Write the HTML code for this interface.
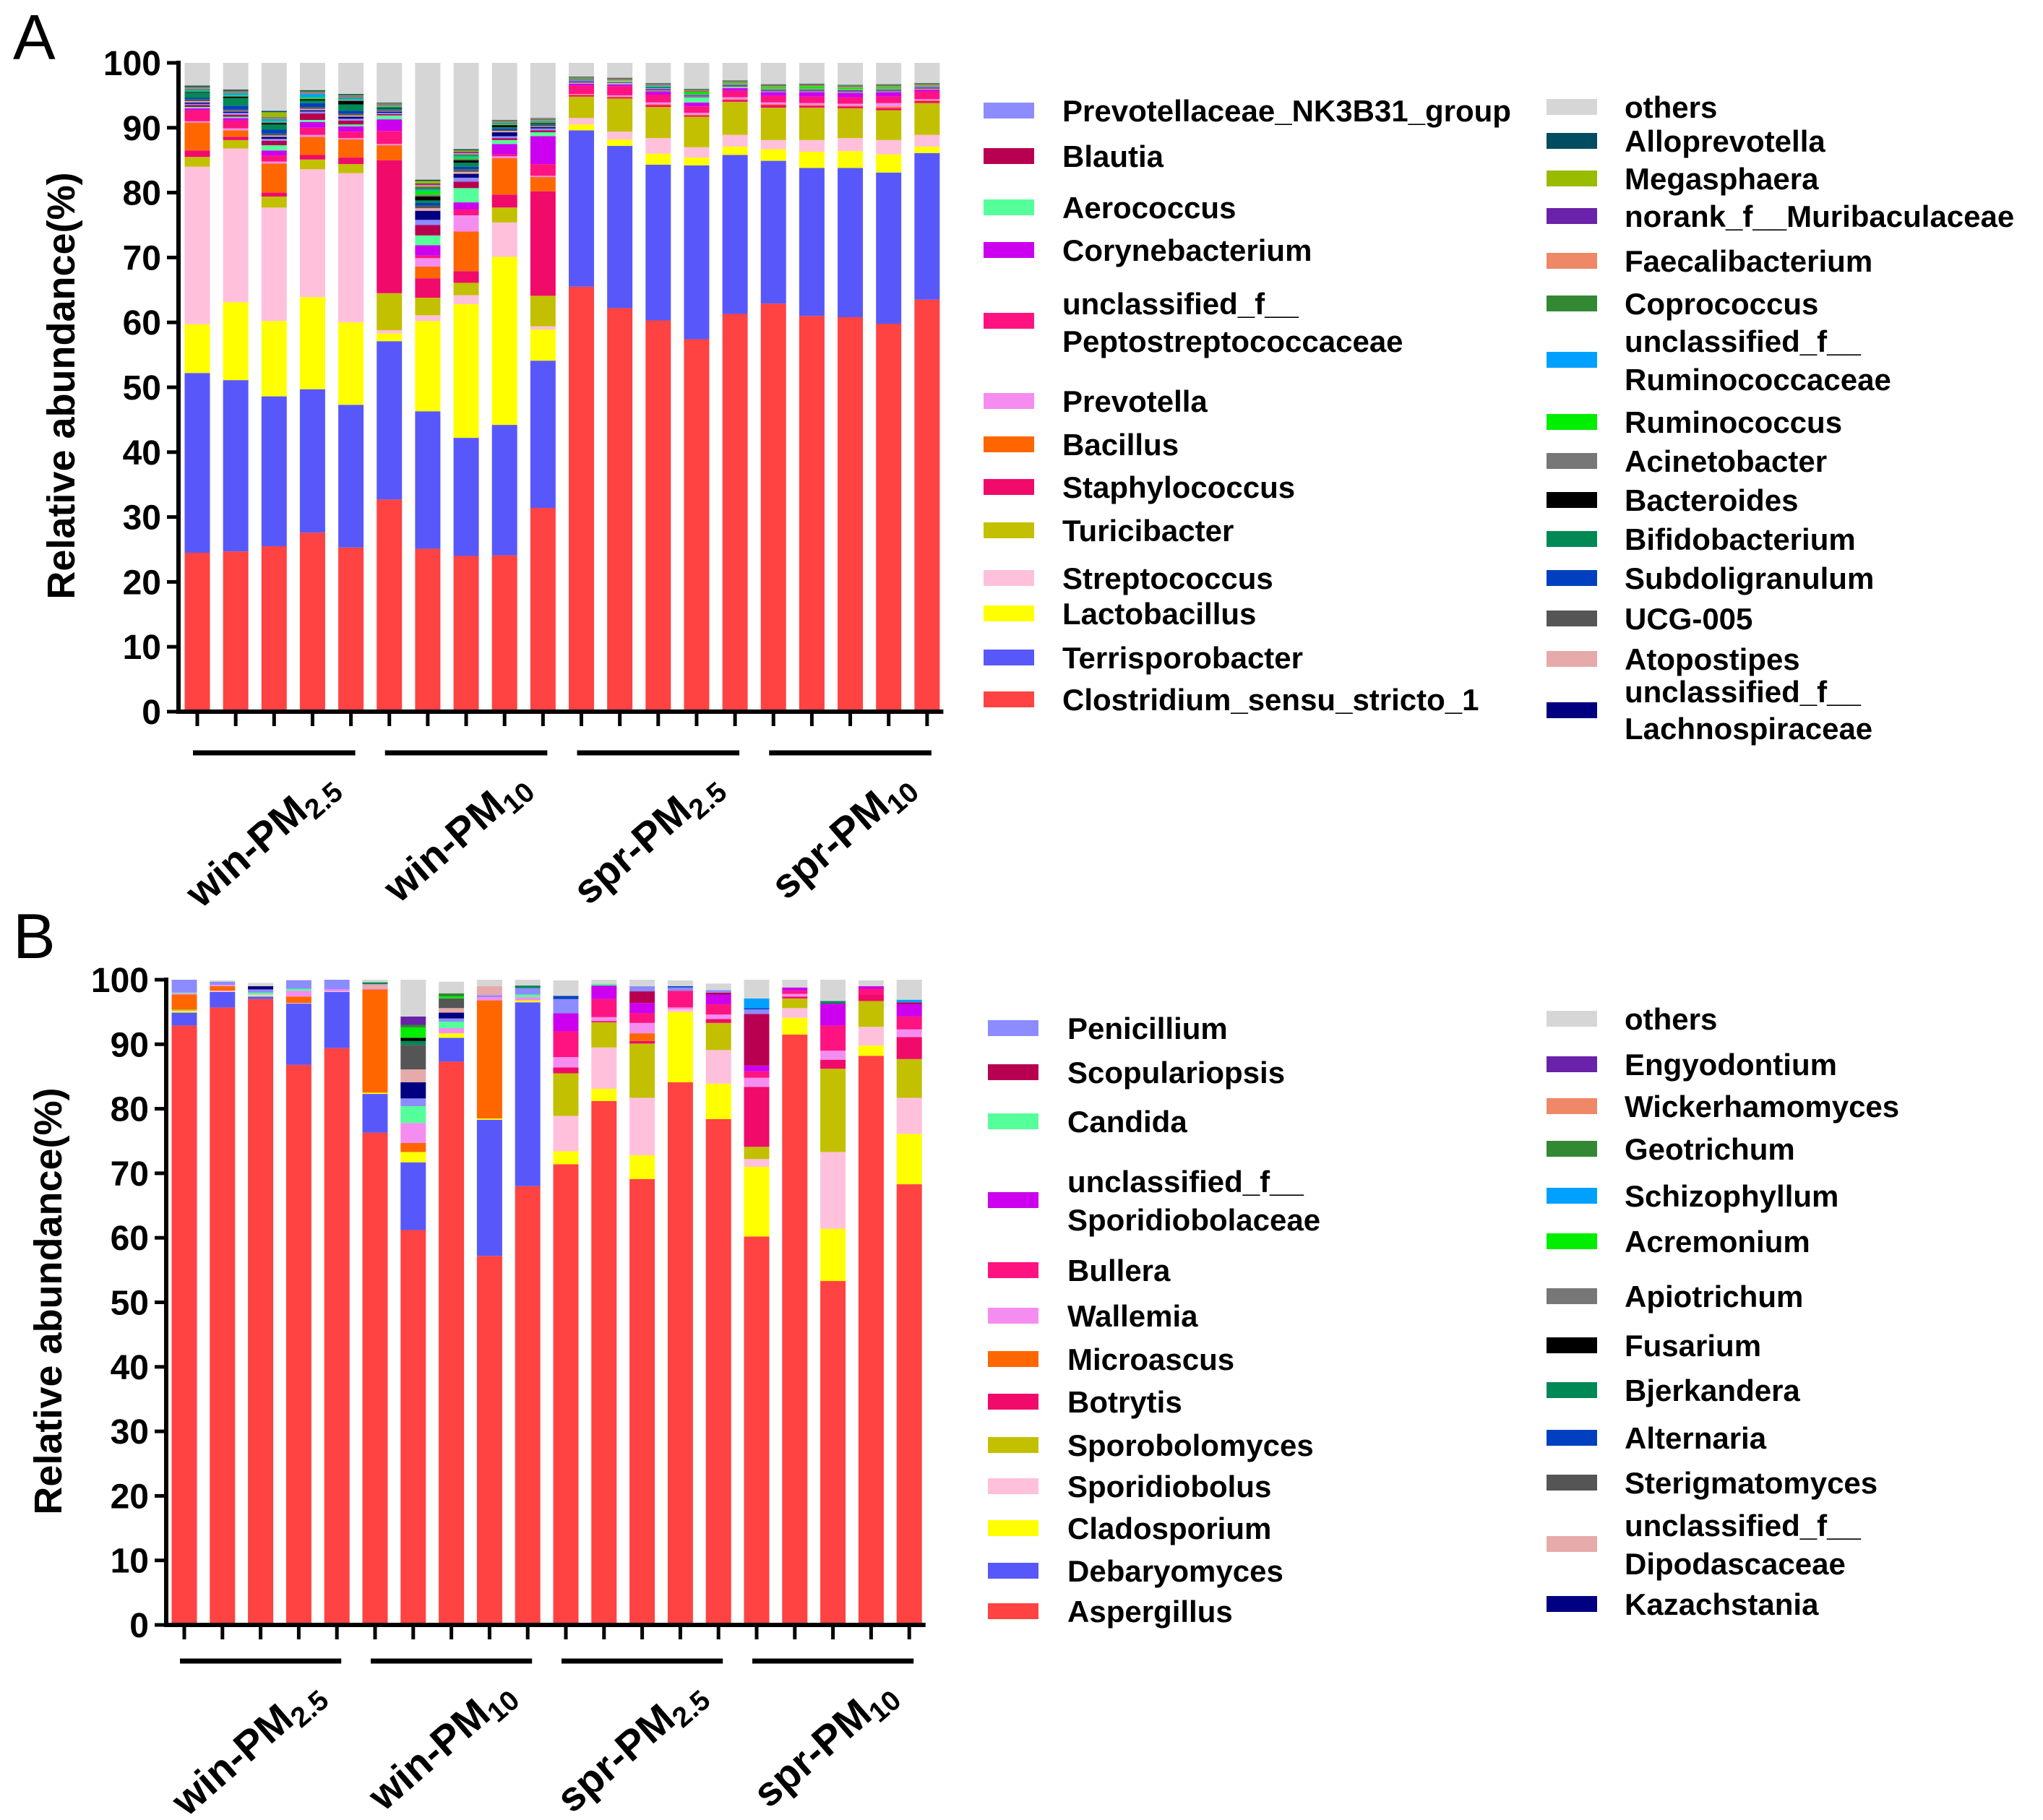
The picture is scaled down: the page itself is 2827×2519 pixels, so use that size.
<!DOCTYPE html>
<html><head><meta charset="utf-8"><style>
html,body{margin:0;padding:0;background:#fff;}
svg{display:block;font-family:"Liberation Sans",Arial,sans-serif;}
</style></head><body>
<svg id="fig" width="2827" height="2519" viewBox="0 0 2827 2519" xmlns="http://www.w3.org/2000/svg">
<text x="18" y="82" font-size="88">A</text>
<text x="18" y="1326" font-size="88">B</text>
<g id="chartA"></g>
<g id="chartB"></g>
</svg>
<script>
// ---- Panel A data (bacteria), stacking order bottom->top ----
const groupsLabels = [["win-PM","2.5"],["win-PM","10"],["spr-PM","2.5"],["spr-PM","10"]];
const yTicks = [0,10,20,30,40,50,60,70,80,90,100];
const A_Clostridium = [24.5,24.7,25.5,27.6,25.3,32.7,25.1,24,24.1,31.4,65.5,62.2,60.3,57.4,61.3,62.9,61,60.8,59.8,63.5];
const A_Terrisporobacter = [27.7,26.4,23.1,22.1,22,24.4,21.2,18.2,20.1,22.7,24.1,25,24,26.8,24.5,22,22.8,23,23.3,22.6];
const A_Lactobacillus = [7.5,12,11.6,14.2,12.7,1.2,13.9,20.6,25.9,4.8,0.9,1,1.7,1.2,1.3,1.8,2.5,2.6,2.8,1];
const A_Streptococcus = [24.3,23.7,17.5,19.7,23,0.5,0.9,1.4,5.3,0.5,1,1.2,2.4,1.6,1.8,1.4,1.8,2,2.2,1.8];
const A_Turicibacter = [1.5,1.3,1.7,1.5,1.4,5.7,2.7,1.9,2.3,4.7,3.3,5.1,4.8,4.7,5.1,5,5,4.6,4.6,4.9];
const A_Staphylococcus = [1,0.5,0.6,0.7,1,20.5,3,1.8,2,16.1,0.2,0.2,0.3,0.2,0.3,0.4,0.3,0.3,0.3,0.3];
const A_Bacillus = [4.3,1,4.5,2.8,2.8,2.3,1.8,6.1,5.6,2.2,0.1,0.1,0.1,0.1,0.1,0.1,0.1,0.1,0.2,0.1];
const A_Prevotella = [0.2,0.3,0.3,0.3,0.2,0.2,1.3,2.5,0.3,0.2,0.1,0.2,0.3,0.3,0.3,0.3,0.3,0.3,0.6,0.2];
const A_UnclPepto = [1.7,1.2,0.9,1.1,1,2,0.4,0.9,0.3,1.8,1.3,1.4,1.2,1,1,1,1,1,1,1.2];
const A_Corynebacterium = [0.3,0.4,0.8,0.9,0.8,1.8,1.6,1.1,1.6,4.3,0.3,0.3,0.5,0.6,0.4,0.6,0.7,0.7,0.7,0.3];
const A_Aerococcus = [0.2,0.2,0.8,0.3,0.3,0.6,1.5,2.2,0.6,0.6,0.1,0.2,0.1,0.8,0.2,0.1,0.1,0.1,0.1,0.1];
const A_Blautia = [0.3,0.3,0.7,1,0.6,0.2,1.6,1,0.3,0.3,0.1,0.1,0.1,0.1,0.1,0.1,0.1,0.1,0.1,0.1];
const A_PrevNK = [0.2,0.3,0.3,0.3,0.3,0.2,0.8,0.6,0.3,0.3,0.1,0.1,0.1,0.1,0.1,0.1,0.1,0.1,0.1,0.1];
const A_Lachno = [0.2,0.2,0.3,0.2,0.3,0.2,1.4,0.6,0.6,0.2,0.1,0,0.1,0.1,0.1,0.1,0.1,0.1,0.1,0.1];
const A_Atopostipes = [0.2,0.1,0.2,0.2,0.2,0.1,0.4,0.3,0.2,0.1,0.1,0.1,0.1,0.1,0.1,0.1,0.1,0.1,0.1,0.1];
const A_UCG005 = [0.3,0.2,0.3,0.3,0.3,0.1,0.4,0.4,0.2,0.2,0,0,0,0,0,0,0,0,0,0];
const A_Subdoligranulum = [0.2,0.6,0.6,0.6,0.4,0.1,0.4,0.4,0.2,0.1,0.1,0,0.1,0,0,0,0,0,0,0];
const A_Bifidobacterium = [0.8,1.2,0.8,0.4,1,0.2,0.4,0.6,0.2,0.1,0,0,0.1,0.1,0,0,0,0,0,0];
const A_Bacteroides = [0.1,0.2,0.2,0.2,0.5,0.1,0.6,0.4,0.3,0.1,0,0,0,0,0,0,0,0,0,0];
const A_Acinetobacter = [0.1,0.1,0.2,0.1,0.2,0.1,0.3,0.2,0.1,0.1,0,0,0,0,0,0,0,0,0,0];
const A_Ruminococcus = [0.1,0.1,0.1,0.2,0.1,0.1,0.6,0.3,0.1,0.1,0.1,0.1,0.1,0.3,0.2,0.3,0.4,0.3,0.3,0.1];
const A_UnclRumino = [0.2,0.3,0.3,0.5,0.2,0.1,0.2,0.2,0.1,0.1,0,0,0.1,0,0,0,0,0,0,0];
const A_Coprococcus = [0.1,0.1,0.1,0.1,0.1,0.1,0.4,0.2,0.1,0.1,0,0,0,0.1,0,0,0,0,0,0];
const A_Faecalibacterium = [0.1,0.1,0.1,0.1,0.1,0.1,0.3,0.2,0.1,0.1,0.1,0.1,0.1,0.1,0.1,0.1,0.1,0.1,0.1,0.1];
const A_norank = [0.1,0.1,0.1,0.1,0.1,0.1,0.2,0.2,0.1,0.1,0.1,0.1,0.1,0.1,0.1,0.1,0.1,0.1,0.1,0.1];
const A_Megasphaera = [0.1,0.1,0.8,0.1,0.1,0.1,0.4,0.2,0.1,0.1,0.1,0.1,0.1,0.1,0.1,0.1,0.1,0.1,0.1,0.1];
const A_Alloprevotella = [0.2,0.2,0.2,0.2,0.2,0.1,0.2,0.2,0.1,0.1,0.1,0.1,0.1,0.1,0.1,0.1,0.1,0.1,0.1,0.1];
const A_others = [4.5,5,8.2,5.5,5.9,7,18,13.5,9.5,8.8,2.6,3.1,3.7,4.7,3.6,4,3.9,4,4.1,3.4];

// ---- Panel B data (fungi) ----
const B_Aspergillus = [92.9,95.7,97,86.8,89.4,76.3,61.2,87.3,57.2,68,71.4,81.2,69.1,84.1,78.4,60.2,91.5,53.3,88.2,68.3];
const B_Debaryomyces = [2,2.4,0.4,9.5,8.7,6,10.5,3.7,21.1,28.5,0,0,0,0,0,0,0,0,0,0];
const B_Cladosporium = [0.2,0,0.1,0,0,0.2,1.6,0.7,0.2,0.3,2,1.9,3.7,10.9,5.5,10.8,2.6,8.1,1.6,7.8];
const B_Sporidiobolus = [0.1,0.2,0.2,0.1,0.1,0,0,0,0,0,5.5,6.4,8.9,0.4,5.2,1.2,1.5,11.9,2.9,5.6];
const B_Sporobolomyces = [0.2,0,0,0,0,0,0,0,0,0,6.6,3.9,8.4,0,4.2,1.9,1.5,12.9,4,6];
const B_Botrytis = [0,0,0,0,0,0,0,0,0,0,0.9,0.2,0.4,0,0.6,9.3,0.3,1.4,1,3.4];
const B_Microascus = [2.3,0.7,0,1,0,16,1.4,0,18.3,0,0,0,1.2,0,0,0,0,0,0,0];
const B_Wallemia = [0.2,0.2,0,0.9,0.3,0.2,3.1,0.8,0.5,0.5,1.6,0.6,1.6,0.3,0.7,1.4,0.4,1.4,0,1.2];
const B_Bullera = [0,0,0,0,0,0,0,0,0,0,4,2.8,1.5,2.6,1.6,1,0.5,3.9,0.9,2];
const B_UnclSporidio = [0,0,0,0,0,0,0,0,0,0,2.8,2.1,1.6,0,1.5,0.9,0.5,3.4,0.4,1.9];
const B_Candida = [0.1,0,0.3,0.3,0,0,2.6,1,0,0.4,0,0.3,0,0,0,0,0,0,0,0];
const B_Scopulariopsis = [0,0,0,0,0,0,0,0,0,0,0,0,1.8,0,0.3,8,0,0,0,0.3];
const B_Penicillium = [2,0.5,0.5,1.3,1.6,0,1.2,0.5,0.3,1,2.2,0,0.8,0.5,0.4,0.7,0,0,0,0];
const B_Kazachstania = [0,0,0.5,0,0,0,2.5,0.9,0,0,0,0,0,0,0,0,0,0,0,0];
const B_Dipodascaceae = [0,0,0,0,0,0.6,2,0.7,1.4,0,0,0,0,0,0,0,0,0,0,0];
const B_Sterigmatomyces = [0,0,0,0,0,0,3.8,1.5,0,0,0,0,0,0,0,0,0,0,0,0];
const B_Alternaria = [0,0,0,0,0,0,0,0,0,0,0.5,0,0,0.2,0,0.2,0,0,0,0];
const B_Bjerkandera = [0,0,0,0,0,0.3,0.6,0,0,0.4,0,0,0,0,0,0,0,0.4,0,0];
const B_Fusarium = [0,0,0,0,0,0,0.5,0,0,0,0,0,0,0,0,0,0,0,0,0];
const B_Apiotrichum = [0,0,0,0,0,0,0,0,0,0,0,0,0,0,0,0,0,0,0,0];
const B_Acremonium = [0,0,0,0,0,0,1.6,0.3,0,0,0,0,0,0,0,0,0,0,0,0];
const B_Schizophyllum = [0,0,0,0,0,0,0,0,0,0,0,0,0,0,0,1.5,0,0,0,0.4];
const B_Geotrichum = [0,0,0,0,0,0,0.4,0.5,0,0,0,0,0,0,0,0,0,0,0,0];
const B_Wickerhamomyces = [0,0,0,0,0,0,0,0,0,0,0,0,0,0,0,0,0,0,0,0];
const B_Engyodontium = [0,0,0,0,0,0,1.3,0,0,0,0,0,0,0,0,0,0,0,0,0];
const B_others = [0,0.2,0.5,0.2,0,0.4,5.7,1.8,1,1,2.4,0.6,1,0.9,1,3,1.2,3.3,0.9,3.1];

const NS="http://www.w3.org/2000/svg";
function mk(tag, parent, attrs){const e=document.createElementNS(NS,tag);for(const k in attrs)e.setAttribute(k,attrs[k]);parent.appendChild(e);return e;}

const seriesA = [
 ["Clostridium_sensu_stricto_1","#FF4242",A_Clostridium],
 ["Terrisporobacter","#5858FA",A_Terrisporobacter],
 ["Lactobacillus","#FFFF00",A_Lactobacillus],
 ["Streptococcus","#FFC0DC",A_Streptococcus],
 ["Turicibacter","#C2C000",A_Turicibacter],
 ["Staphylococcus","#F00A6A",A_Staphylococcus],
 ["Bacillus","#FF6600",A_Bacillus],
 ["Prevotella","#F58CF0",A_Prevotella],
 ["unclassified_f__Peptostreptococcaceae","#FF1380",A_UnclPepto],
 ["Corynebacterium","#CC00EE",A_Corynebacterium],
 ["Aerococcus","#55FF99",A_Aerococcus],
 ["Blautia","#B80050",A_Blautia],
 ["Prevotellaceae_NK3B31_group","#8C8CFF",A_PrevNK],
 ["unclassified_f__Lachnospiraceae","#000080",A_Lachno],
 ["Atopostipes","#E6AAAA",A_Atopostipes],
 ["UCG-005","#555555",A_UCG005],
 ["Subdoligranulum","#0040C0",A_Subdoligranulum],
 ["Bifidobacterium","#008855",A_Bifidobacterium],
 ["Bacteroides","#000000",A_Bacteroides],
 ["Acinetobacter","#777777",A_Acinetobacter],
 ["Ruminococcus","#00EE00",A_Ruminococcus],
 ["unclassified_f__Ruminococcaceae","#00A0FF",A_UnclRumino],
 ["Coprococcus","#338833",A_Coprococcus],
 ["Faecalibacterium","#EE8866",A_Faecalibacterium],
 ["norank_f__Muribaculaceae","#6A22AA",A_norank],
 ["Megasphaera","#99BB00",A_Megasphaera],
 ["Alloprevotella","#004C60",A_Alloprevotella],
 ["others","#D6D6D6",A_others]
];
const seriesB = [
 ["Aspergillus","#FF4242",B_Aspergillus],
 ["Debaryomyces","#5858FA",B_Debaryomyces],
 ["Cladosporium","#FFFF00",B_Cladosporium],
 ["Sporidiobolus","#FFC0DC",B_Sporidiobolus],
 ["Sporobolomyces","#C2C000",B_Sporobolomyces],
 ["Botrytis","#F00A6A",B_Botrytis],
 ["Microascus","#FF6600",B_Microascus],
 ["Wallemia","#F58CF0",B_Wallemia],
 ["Bullera","#FF1380",B_Bullera],
 ["unclassified_f__Sporidiobolaceae","#CC00EE",B_UnclSporidio],
 ["Candida","#55FF99",B_Candida],
 ["Scopulariopsis","#B80050",B_Scopulariopsis],
 ["Penicillium","#8C8CFF",B_Penicillium],
 ["Kazachstania","#000080",B_Kazachstania],
 ["unclassified_f__Dipodascaceae","#E6AAAA",B_Dipodascaceae],
 ["Sterigmatomyces","#555555",B_Sterigmatomyces],
 ["Alternaria","#0040C0",B_Alternaria],
 ["Bjerkandera","#008855",B_Bjerkandera],
 ["Fusarium","#000000",B_Fusarium],
 ["Apiotrichum","#777777",B_Apiotrichum],
 ["Acremonium","#00EE00",B_Acremonium],
 ["Schizophyllum","#00A0FF",B_Schizophyllum],
 ["Geotrichum","#338833",B_Geotrichum],
 ["Wickerhamomyces","#EE8866",B_Wickerhamomyces],
 ["Engyodontium","#6A22AA",B_Engyodontium],
 ["others","#D6D6D6",B_others]
];

function slug(s){return s.toLowerCase().replace(/[^a-z0-9]+/g,'-').replace(/^-|-$/g,'');}

function drawChart(g, series, cfg){
  const y = v => cfg.y0 - (cfg.y0 - cfg.y100) * v / 100;
  const x = i => cfg.x0 + i * cfg.step;
  const n = series[0][2].length;
  for(let i=0;i<n;i++){
    let cum=0;
    const bg = mk('g', g, {});
    
    
    for(const s of series){
      const v=s[2][i]; if(v<=0) continue;
      const top=Math.min(100,cum+v); if(top<=cum) continue;
      const r = mk('rect', bg, {x:x(i)-cfg.bw/2, y:y(top), width:cfg.bw, height:y(cum)-y(top), fill:s[1]});
      
      
      cum=top;
    }
  }
  const ya = mk('line', g, {x1:cfg.ax, y1:cfg.y100-3, x2:cfg.ax, y2:cfg.y0+3, stroke:'#000','stroke-width':6});
   
  const xa = mk('line', g, {x1:cfg.ax-3, y1:cfg.y0, x2:x(n-1)+cfg.bw/2+5, y2:cfg.y0, stroke:'#000','stroke-width':6});
   
  for(const t of yTicks){
    const tk = mk('line', g, {x1:cfg.ax-16, y1:y(t), x2:cfg.ax, y2:y(t), stroke:'#000','stroke-width':5});
     
    const tl = mk('text', g, {x:cfg.ax-24, y:y(t)+17, 'font-size':48, 'font-weight':'bold','text-anchor':'end'});
    tl.textContent=t;
     
  }
  for(let i=0;i<n;i++){
    const tk = mk('line', g, {x1:x(i), y1:cfg.y0, x2:x(i), y2:cfg.y0+20, stroke:'#000','stroke-width':5});
     
  }
  const tt = mk('text', g, {x:cfg.tx, y:cfg.ty, 'font-size':54,'font-weight':'bold','text-anchor':'middle',transform:`rotate(-90 ${cfg.tx} ${cfg.ty})`, dy:18});
  tt.textContent='Relative abundance(%)';
   
  for(let gi=0;gi<4;gi++){
    const xl=x(gi*5)-6, xr=x(gi*5+4)+6;
    const gl = mk('line', g, {x1:xl, y1:cfg.gy, x2:xr, y2:cfg.gy, stroke:'#000','stroke-width':7});
     
    const ex=xr-22, ey=cfg.gy+50;
    const lt = mk('text', g, {x:ex, y:ey, 'font-size':57,'font-weight':'bold','text-anchor':'end',transform:`rotate(-41 ${ex} ${ey})`});
     
    const t1=mk('tspan', lt, {}); t1.textContent=groupsLabels[gi][0];
    const t2=mk('tspan', lt, {'font-size':39, dy:11}); t2.textContent=groupsLabels[gi][1];
  }
}

function legend(g, items, sx, tx){
  for(const it of items){
    const lg = mk('g', g, {});
     
    const col = it[1];
    mk('rect', lg, {x:sx, y:it[2]-11, width:70, height:22, fill:col});
    const lines = it[0];
    if(lines.length===1){
      const t=mk('text', lg, {x:tx,y:it[2]+15,'font-size':42,'font-weight':'bold'}); t.textContent=lines[0];
    } else {
      const t=mk('text', lg, {x:tx,y:it[3]+15,'font-size':42,'font-weight':'bold'}); t.textContent=lines[0];
      const t2=mk('text', lg, {x:tx,y:it[4]+15,'font-size':42,'font-weight':'bold'}); t2.textContent=lines[1];
    }
  }
}

const gA=document.getElementById('chartA'), gB=document.getElementById('chartB');
drawChart(gA, seriesA, {x0:273, step:53.15, bw:35, ax:247, y0:985, y100:87, tx:85, ty:534, gy:1042});
drawChart(gB, seriesB, {x0:255, step:52.8, bw:35, ax:230, y0:2249, y100:1356, tx:67, ty:1801, gy:2299});

legend(gA, [
 [["Prevotellaceae_NK3B31_group"],"#8C8CFF",153],
 [["Blautia"],"#B80050",216],
 [["Aerococcus"],"#55FF99",287],
 [["Corynebacterium"],"#CC00EE",346],
 [["unclassified_f__","Peptostreptococcaceae"],"#FF1380",444,420,472],
 [["Prevotella"],"#F58CF0",555],
 [["Bacillus"],"#FF6600",615],
 [["Staphylococcus"],"#F00A6A",674],
 [["Turicibacter"],"#C2C000",734],
 [["Streptococcus"],"#FFC0DC",800],
 [["Lactobacillus"],"#FFFF00",849],
 [["Terrisporobacter"],"#5858FA",910],
 [["Clostridium_sensu_stricto_1"],"#FF4242",968]
], 1361, 1470);
legend(gA, [
 [["others"],"#D6D6D6",148],
 [["Alloprevotella"],"#004C60",195],
 [["Megasphaera"],"#99BB00",247],
 [["norank_f__Muribaculaceae"],"#6A22AA",299],
 [["Faecalibacterium"],"#EE8866",361],
 [["Coprococcus"],"#338833",420],
 [["unclassified_f__","Ruminococcaceae"],"#00A0FF",498,472,525],
 [["Ruminococcus"],"#00EE00",584],
 [["Acinetobacter"],"#777777",638],
 [["Bacteroides"],"#000000",692],
 [["Bifidobacterium"],"#008855",746],
 [["Subdoligranulum"],"#0040C0",800],
 [["UCG-005"],"#555555",856],
 [["Atopostipes"],"#E6AAAA",912],
 [["unclassified_f__","Lachnospiraceae"],"#000080",983,957,1008]
], 2140, 2248);
legend(gB, [
 [["Penicillium"],"#8C8CFF",1423],
 [["Scopulariopsis"],"#B80050",1484],
 [["Candida"],"#55FF99",1552],
 [["unclassified_f__","Sporidiobolaceae"],"#CC00EE",1661,1635,1688],
 [["Bullera"],"#FF1380",1758],
 [["Wallemia"],"#F58CF0",1821],
 [["Microascus"],"#FF6600",1881],
 [["Botrytis"],"#F00A6A",1940],
 [["Sporobolomyces"],"#C2C000",2000],
 [["Sporidiobolus"],"#FFC0DC",2057],
 [["Cladosporium"],"#FFFF00",2115],
 [["Debaryomyces"],"#5858FA",2174],
 [["Aspergillus"],"#FF4242",2230]
], 1367, 1477);
legend(gB, [
 [["others"],"#D6D6D6",1410],
 [["Engyodontium"],"#6A22AA",1473],
 [["Wickerhamomyces"],"#EE8866",1531],
 [["Geotrichum"],"#338833",1590],
 [["Schizophyllum"],"#00A0FF",1655],
 [["Acremonium"],"#00EE00",1718],
 [["Apiotrichum"],"#777777",1794],
 [["Fusarium"],"#000000",1862],
 [["Bjerkandera"],"#008855",1924],
 [["Alternaria"],"#0040C0",1990],
 [["Sterigmatomyces"],"#555555",2052],
 [["unclassified_f__","Dipodascaceae"],"#E6AAAA",2137,2111,2164],
 [["Kazachstania"],"#000080",2220]
], 2140, 2248);
</script>
</body></html>
